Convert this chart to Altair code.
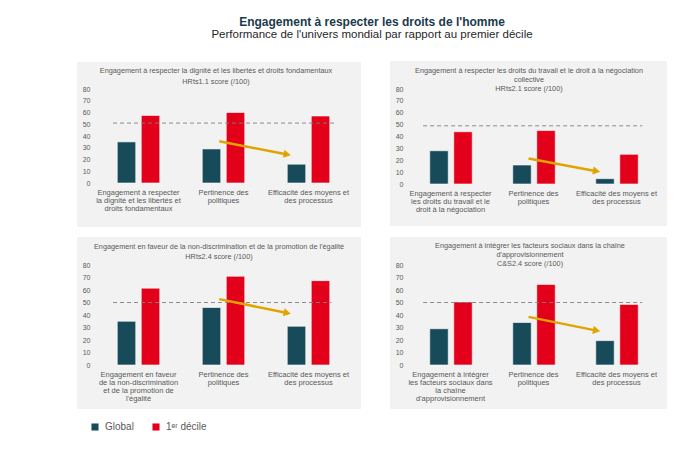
import math
import altair as alt
import pandas as pd

FONT = "Liberation Sans"
GREY_TXT = "#595959"
C_GLOBAL = "#174B5A"
C_DECILE = "#E3001B"
C_ARROW = "#E0A400"
BG = "#F2F2F2"

series = ["Global", "1ᵉʳ décile"]
cat_common = ["Pertinence des|politiques", "Efficacité des moyens et|des processus"]
first_cats = [
    "Engagement à respecter|la dignité et les libertés et|droits fondamentaux",
    "Engagement à respecter|les droits du travail  et le|droit à la négociation",
    "Engagement en faveur|de la non-discrimination|et de la promotion de|l'égalité",
    "Engagement à intégrer|les facteurs sociaux dans|la chaîne|d'approvisionnement",
]
panel_titles = [
    "Engagement à respecter la dignité et les libertés et droits fondamentaux|HRts1.1 score (/100)",
    "Engagement à respecter les droits du travail  et le droit à la négociation|collective|HRts2.1 score (/100)",
    "Engagement en faveur de la non-discrimination et de la promotion de l'égalité|HRts2.4 score (/100)",
    "Engagement à intégrer les facteurs sociaux dans la chaîne|d'approvisionnement|C&S2.4 score (/100)",
]
global_vals = [[35, 29, 16], [28, 16, 4.5], [35, 46, 31], [29, 34, 19.5]]
decile_vals = [[57.5, 60, 57], [44, 45, 25], [61.5, 71, 67.5], [50.5, 64.5, 48.5]]
benchmark = [51, 49, 50, 50]
dash_from = [-0.30, -0.33, -0.30, -0.33]
dash_to = [2.33, 2.31, 2.27, 2.31]
arrow_x0 = [0.95, 0.94, 0.95, 0.94]
arrow_y0 = [35.5, 21.5, 52.7, 38.5]
arrow_x1 = [1.75, 1.76, 1.75, 1.76]
arrow_y1 = [24.3, 10.8, 41.6, 27.5]

# layout (pixels)
widths = [255, 249, 255, 249]
heights = [94, 95, 100, 100]
bg_right = [10, 9, 10, 9]
bg_top = [-27, -28, -28, -28]
bg_bottom = [44, 42, 44, 44]
title_cx = [120, 120, 123, 121]
title_y1 = [-18, -17.7, -18, -19]
title_lh = [10.5, 8.7, 10, 9.2]


def yaxis():
    return alt.Axis(values=list(range(0, 81, 10)), title=None,
                    domain=False, ticks=False, grid=False,
                    labelFontSize=7, labelColor=GREY_TXT,
                    labelPadding=6, zindex=1)


def panel(i):
    w, h = widths[i], heights[i]
    cats = [first_cats[i]] + cat_common
    bars_df = pd.DataFrame({
        "cat": cats * 2,
        "series": [series[0]] * 3 + [series[1]] * 3,
        "value": global_vals[i] + decile_vals[i],
    })
    yscale = alt.Scale(domain=[0, 80])
    xq = alt.Scale(domain=[-0.5, 2.5])

    bg = alt.Chart(pd.DataFrame({"k": [0]})).mark_rect(color=BG).encode(
        x=alt.value(-19), x2=alt.value(w + bg_right[i]),
        y=alt.value(bg_top[i]), y2=alt.value(h + bg_bottom[i]),
    )
    bars = alt.Chart(bars_df).mark_bar(stroke="#ffffff", strokeWidth=0.6).encode(
        x=alt.X("cat:N", sort=cats,
                scale=alt.Scale(paddingInner=0.5, paddingOuter=0.25),
                axis=alt.Axis(title=None, labelAngle=0, domain=False, ticks=False,
                              labelExpr="split(datum.value, '|')",
                              labelBaseline="top", labelLineHeight=8.3,
                              labelPadding=5, labelFontSize=7.5,
                              labelColor=GREY_TXT, labelLimit=300, zindex=1)),
        xOffset=alt.XOffset("series:N", sort=series,
                            scale=alt.Scale(paddingInner=0.23, paddingOuter=0)),
        y=alt.Y("value:Q", scale=yscale, axis=yaxis()),
        color=alt.Color("series:N", sort=series,
                        scale=alt.Scale(domain=series, range=[C_GLOBAL, C_DECILE]),
                        legend=alt.Legend(title=None, orient="none",
                                          direction="horizontal",
                                          legendX=-6, legendY=333,
                                          symbolType="square", symbolSize=50,
                                          symbolStrokeWidth=0,
                                          labelFontSize=10, labelColor=GREY_TXT,
                                          columnPadding=17, labelOffset=5)),
    )
    dash_df = pd.DataFrame({"x": [dash_from[i], dash_to[i]],
                            "value": [benchmark[i], benchmark[i]]})
    dash = alt.Chart(dash_df).mark_line(color="#808080", strokeWidth=0.9,
                                        strokeDash=[4, 3]).encode(
        x=alt.X("x:Q", scale=xq, axis=None),
        y=alt.Y("value:Q", scale=yscale, axis=yaxis()),
    )
    arr_df = pd.DataFrame({"x": [arrow_x0[i], arrow_x1[i]],
                           "value": [arrow_y0[i], arrow_y1[i]]})
    arrow = alt.Chart(arr_df).mark_line(color=C_ARROW, strokeWidth=2.5).encode(
        x=alt.X("x:Q", scale=xq, axis=None),
        y=alt.Y("value:Q", scale=yscale, axis=yaxis()),
    )
    step = w / 3.0
    dx = (arrow_x1[i] - arrow_x0[i]) * step
    dy = (arrow_y0[i] - arrow_y1[i]) * h / 80.0
    ang = math.degrees(math.atan2(dy, dx)) % 360
    head_df = pd.DataFrame({"x": [arrow_x1[i]], "value": [arrow_y1[i]]})
    head = alt.Chart(head_df).mark_point(shape="triangle-right", filled=True,
                                         size=70, angle=ang, color=C_ARROW,
                                         opacity=1).encode(
        x=alt.X("x:Q", scale=xq, axis=None),
        y=alt.Y("value:Q", scale=yscale, axis=yaxis()),
    )
    title = alt.Chart(pd.DataFrame({"t": [panel_titles[i]]})).mark_text(
        lineBreak="|", align="center", baseline="middle", fontSize=7.3,
        color=GREY_TXT, lineHeight=title_lh[i]).encode(
        text="t:N", x=alt.value(title_cx[i]), y=alt.value(title_y1[i]))

    return alt.layer(bg, bars, dash, arrow, head, title).resolve_scale(
        x="independent").properties(width=w, height=h)


row1 = alt.hconcat(panel(0), panel(1), spacing=29)
row2 = alt.hconcat(panel(2), panel(3), spacing=29)
chart = alt.vconcat(row1, row2, spacing=10).properties(
    title=alt.TitleParams(
        text="Engagement à respecter les droits de l'homme",
        subtitle="Performance de l'univers mondial par rapport au premier décile",
        anchor="middle", fontSize=12, fontWeight="bold", color="#1B3A4B",
        subtitleFontSize=11.5, subtitleColor="#262626", subtitlePadding=0,
        offset=20),
    padding={"left": 69, "top": 7, "right": 5, "bottom": 5},
).configure(font=FONT).configure_view(stroke=None)

chart.save("out.html", embed_options={"renderer": "svg", "actions": False})
